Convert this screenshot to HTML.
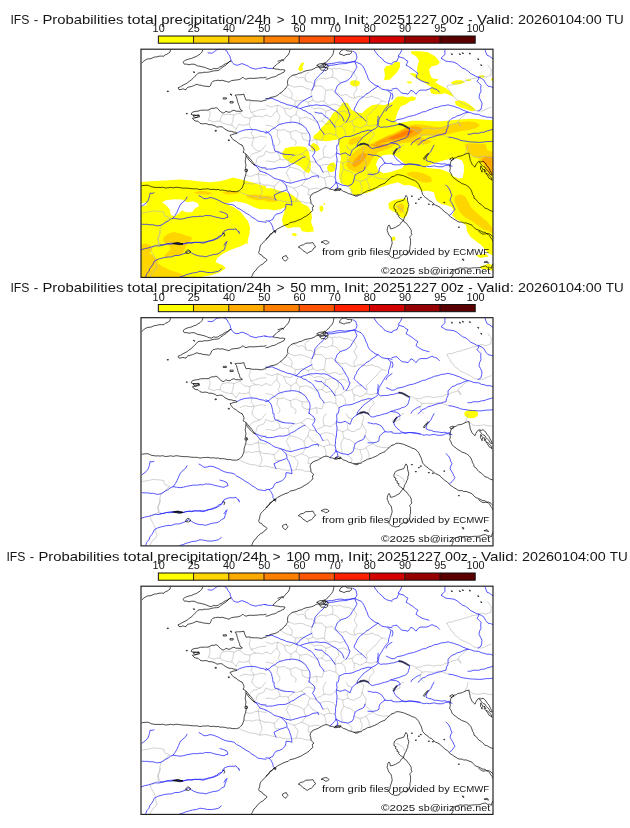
<!DOCTYPE html>
<html><head><meta charset="utf-8"><title>IFS probabilities</title>
<style>
html,body{margin:0;padding:0;background:#fff;}
body{width:630px;height:828px;overflow:hidden;position:relative;font-family:"Liberation Sans",sans-serif;}
svg{will-change:transform;position:absolute;left:0;top:0;display:block}
text{font-family:"Liberation Sans",sans-serif;fill:#151515}
.t{font-size:13.2px}
.l{font-size:10.2px}
.a{font-size:9.9px}
</style></head><body>
<svg width="630" height="828" viewBox="0 0 630 828">
<defs>
<clipPath id="cp"><rect x="0" y="0" width="352" height="228.2"/></clipPath>
<g id="base" fill="none" stroke-linejoin="round" stroke-linecap="round">
<path stroke="#b4b4b4" stroke-width="0.6" d="M68,61 68.9,63.4 69,66 68.4,68.7 67,71 70.1,71.8 73,73 75.9,71.9 79,72 81.8,73.9 85,75 88,75.6 91,76 93.3,77.7 95,80 M79,72 79.7,68.9 81,66 84,65.3 87,65 90,65.3 93,66 95.9,64.6 99,64 101,62 M93,66 92.1,68.9 92,72 90.9,73.9 91,76 M99,64 101,66 103,68 106,68.5 109,69 111.8,67.5 115,67 118.1,67 121,68 122.9,66.8 125,66 M109,69 108.8,72 108,75 109.2,77.7 111,80 110.9,82.1 110,84 112,86.7 113,90 111.5,92.8 111,96 M108,75 105.5,75.5 103,76 100.4,75.9 98,75 96.5,77.5 95,80 M109,51.6 109.1,54.9 108,58 109,60.5 110,63 112.1,65.4 115,67 M110,63 112.5,62.8 114.7,61.9 117,61 119.6,60.4 122.3,60.2 125,60 M99,90 101.9,88.6 105,88 107.9,88.8 111,89 113.7,88.4 116.4,88 119,87 122,87.3 125,88 M152,26 154.7,27.1 157,29 159.4,28.2 162,28 163.9,29.7 165,32 167.9,32.8 171,33 172.7,34.8 174,37 176.3,36.6 178.7,36.9 181,37 182.7,39.3 185,41 188.1,40.9 191,40 192.7,41.8 194,44 197.1,44.6 200,46 202.6,46 205,45 206.9,46.6 209,48 211.5,48.7 214,49 216.3,47.5 219,47 222.1,47.2 225,48.4 228.1,47.9 231,47 M185,18.4 188,19.1 191,20 193.3,19.2 195.7,19.9 198,19 200.3,19.8 202.6,20.7 205,21 207.8,21.2 210.2,22.7 213,23 M214,49 213,46.6 213,44 214.9,41.7 216,39 214.5,36.5 213,34 214.3,31.4 216,29 214.6,26.5 213,24 M231,47 233.8,48.5 237,49 239.2,50.3 241,52 243.1,52.1 245,53 M165,32 164.5,29 164,26 165.8,24.2 168,23 M174,37 174,34.4 175,32 177.3,30.2 180,29 182.6,29 185,30 187.9,28.7 191,28 193.6,28.8 196,30 197.7,31.9 199,34 M191,28 191.8,25.6 192,23 191,20 M148,36 150.6,36.8 153,38 156,37.5 159,37 162.1,37.6 165,39 168.1,39.8 171,41 172,38.7 174,37 M147,39 149.2,41.3 151,44 151.1,46.6 150,49 152.4,50.7 155,52 158,51.6 161,51 164.1,51.6 167,53 169.5,52 172,51 174.3,52.5 177,53 179.9,52 183,52 183.9,49.3 183.9,46.5 184.5,43.7 185,41 M171,41 170.1,43.4 170,46 171.1,48.5 172,51 M139,44 141.5,45.5 144,47 146.9,48.2 150,49 M155,52 153.9,53.9 154,56 155.7,57.9 157,60 155.6,62.4 155,65 156.8,67.2 159,69 162,68.7 165,68 167.5,68.9 170,70 M167,53 167.7,55 168,57 170.8,58 173,60 175.9,59.1 179,59 182.2,60 185,62 188.1,61.3 191,60 194.1,61.2 197,63 199.3,62.3 201.6,61.8 204,62 206.3,63.9 209,65 M183,52 184.7,54.3 187,56 189.4,55.9 191.6,55.1 194,55 196.6,55.7 199,57 201.4,55.8 204,55 M125,56 128,57 131,58 133.9,56.6 137,56 140,57.4 143,59 146,59.2 149,60 151.8,58.4 154,56 M137,56 135.9,58.9 136,62 137.5,64.5 139,67 138.3,69.6 137,72 138.6,74.4 141,76 M125,66 127.6,66.8 130,68 131.9,65.9 133.6,63.6 136,62 M143,59 144.1,62 145,65 147.5,66.5 150,68 152.5,66.5 155,65 M150,68 149.9,71.1 149,74 M159,69 158.5,72 158,75 160.8,76 163,78 M170,70 172.6,71.3 175,73 177.9,72 181,72 183.1,73.4 185,75 187.9,74 191,74 193,75.7 194,78 197,77.3 200,77 202.3,74.7 205,73 208,72.6 211,72 213.5,70 216,68 218.5,68.3 221,68 M185,62 184.3,65 184,68 182.3,69.8 181,72 M197,63 197.1,66.1 198,69 196.1,71.1 194,73 194.2,75.5 194,78 M211,72 211.5,74.7 213,77 216.1,77.6 219,79 222.1,77.7 225,76 228,76.7 231,77 233.4,76 236,76 M225,76 225.9,74.1 226,72 226,69.9 225,68 227.1,66.1 229,64 231.2,62.2 233,60 235.3,58.3 237,56 238.7,53.7 241,52 M125,76 128,76.5 131,77 133,78.3 134.8,80 137,81 140.1,80.9 143,80 145.8,81.9 149,83 152,82.1 155,81 157.8,82.9 161,84 164,84.2 167,84 M137,81 136.3,84 136,87 137.8,89.3 139,92 138.5,94.3 137,96 M149,83 149.9,85.9 150,89 152.6,90.4 155,92 155,94.1 154,96 M161,84 161.1,87.1 162,90 165,91.1 168,92 170.4,91.5 172.7,90.8 175,90 178,90.7 181,91 182,88 183,85 M175,90 176.1,92.9 176,96 M183,85 186.1,84.9 189,84 191.9,85.3 195,86 196.5,88 198,90 M194,78 194.5,80 195,82 194.8,84 195,86 M200,77 202.4,78.6 204,81 204.2,83.6 205,86 M213,77 213.3,80 213,83 M231,82 232.5,83.8 233,86 231.2,88.2 229,90 228.2,92.5 228,95.2 M306,37 308.2,35.8 310.7,35.9 313,35 316.3,33.9 319.8,33.3 323,32 326,31.4 328.9,30.3 331.9,29.2 335,29 337.2,28.5 339,27 342.1,27.1 345,28 347.5,27 350,26 350,23 350.4,20 348.5,18.2 347,16 M306,37 307.3,39.6 309,42 309.9,44.3 311.9,45.8 313,48 314.9,49.8 317.2,51.1 319,53 321.6,54.4 324.4,55.6 327,57 329.2,58 331.2,59.3 333,61 336.1,61.2 339,62 342.2,61.5 345,60 347.5,59 350,58 M269,79 271.7,79.3 274.2,80.8 277,81 279.8,80.9 282.3,79.6 285,79 287.7,78.9 290.4,79.3 293,80 295.6,79.2 298.3,79.1 301,79 303.5,77.5 306.2,76.7 309,76 311.6,74.7 314.4,74.1 317,73 318.1,75.3 320,77 318.8,74.3 317,72 318.9,69.9 321,68 322.9,66.3 325,64.7 327,63 M275,82 277.1,83.2 279.1,84.5 281,86 284.3,85.5 287.7,85.7 291,86 293.7,86.2 296.3,84.9 299,85 302,86 305,87.1 308,88 M281,86 279.6,88.9 279,92 281.2,93.8 283,96 M1,164 4,163.3 7,163 9.6,162.3 12.3,161.7 15,162 17.7,162.1 20.4,162.5 23,163 23,165.1 24,167 26.7,167.6 29,169 26.4,170.3 24.7,172.8 22.4,174.4 20,176 19.3,178.6 18.9,181.3 19,184 18.1,187 17,190 18,192.9 18,196 M98,141.6 99.5,142.8 101,144 104,144.9 107,146 109.9,147 113,147 116.1,147.7 119,149 122,148.5 125,148.4 M104.6,126 107.7,127 111,127 113.8,125.5 117,125 119.7,125.2 122.3,126 125,126 M103,134 105.6,134.7 108.4,134.1 111,135 113.6,134.1 116.3,133.8 119,134 121.8,135.5 125,136 M117,125 118,127.9 118,131.1 119,134 119.2,136.8 120.5,139.3 121,142 120.6,144.4 119.1,146.5 119,149 M114,116 115.1,113.4 115.7,110.6 117,108 120.1,107.2 123,106 123.8,103.9 125,102 M108,109 109.5,107.1 110.9,105.2 113,104 116.1,103.3 119,102 121.4,100.4 123,98 125,96 M111,96 112.4,98.1 114,100 116.3,101.5 119,102 M117,125 118,122.2 120,120 122.4,118.7 125,118 M125,148.4 128,149 131,150 133.7,150.2 136.3,151.1 139,151 141.5,152.2 144.4,152.2 147,153 149.6,152.3 152.4,152.6 155,152 157.7,152 160.4,152.1 163,153 165.3,153.8 167.7,153.6 170,154 M224,118 225.2,120.2 227,122 229.6,123.9 232,126 234.3,127.9 237,129 240,129.5 243,130 245.5,129.6 248,130 M219,96 221.4,97.6 223,100 221.9,103 221,106 222.2,108.1 223.3,110.3 225,112 225,115.1 224,118 M125,102 128,103.1 131,104 134,102.9 137,102 140,103.5 143,105 M125,112 127.7,111.9 130.4,112.4 133,113 136,111.5 139,110 141.6,110.8 144.4,110.2 147,111 149,109.3 151.2,107.9 153,106 M137,102 137.1,104.8 138.7,107.2 139,110 M147,111 148.1,113.2 147.8,115.8 149,118 147.2,119.7 146.4,122 145,124 146.8,125.7 147.2,128.3 149,130 149.1,132 149,134 M153,106 155.4,106.1 157.7,105.5 160,105 162.7,103.3 165,101 168,100.9 171,102 174,102 M160,105 162.2,106 164,107.6 166.6,109.7 169,112 171.9,112.9 175,113 M169,112 167.6,114.9 167,118 169.3,120.3 171,123 174.2,124.4 177,126.4 M149,118 151.7,118.5 154.3,119.4 157,120 159.1,121.2 161.3,122.3 163,124 164.1,121.8 165.9,120.1 167,118 M163,124 163.5,127.2 165,130 M125,136 127.7,135.8 130.3,136.7 133,137 135.5,135.2 137.3,132.6 140,131 M133,137 133.6,140.1 135,143 137,142.5 139,143 M145,136 147.6,137.1 150.3,138.1 153,139 154.9,141.6 157,144 156.6,146.7 155.8,149.4 155,152 M153,139 155.7,138.1 158.3,136.9 161,136 162.5,134.1 163.6,132 165,130 M161,136 163.4,137.3 166,138.2 168,140 170.4,139.8 172.7,139.3 175,139 177.6,139.4 180,140.4 M168,140 167.2,142.9 167,146 169.1,145.8 171,145 M177,126.4 180,127.7 183,129 185.9,127.6 189,127 191.5,127.5 194,128 M183,129 184.4,131.9 185,135 185,138.4 M179,117 181.9,115.6 185,115 188,115.4 191,116 193.3,117.7 195,120 M182,123 184.5,122.4 187,122 188,124.5 189,127 M175,113 177.4,110.9 180.4,109.8 183,108 186.1,108 189,109 191.3,107.6 193.5,105.9 195.4,104 M183,108 182.5,105 182,102 183,98.8 185,96 M196,112 199,113 202,114 204.4,112.9 207,112 209.8,113.5 213,114 215.8,112.1 219,111 220.4,108.7 221,106 M202,114 201.9,117.1 203,120 201.3,122.9 200,126 200,129.4 201,132.6 201,136 M203,120 205.8,121.5 209,122 211.5,124 214,126 M207,106 206.5,109 207,112 M207,137 208.6,139.4 211,141 210.9,143.1 210,145 M213,130 215.9,131.3 219,132 222.2,131.5 225,130 227.1,128.2 229.6,127.2 232,126 M219,132 219.7,135.1 221,138 221.1,140.6 219.9,143 220,145.6 M225,130 226.7,132.9 228,136 228.1,138.6 229,141 M205,96 206.4,97.8 207,100 209,100.5 211,101 M251,102 253.1,102.7 255,104 256.8,102.6 259,102 258.7,100 259,98 260.8,96.5 263,96 M328,104 329.6,105.4 331,107 334,107.8 337,108 340,107.7 343,107 345.9,107.9 349,108.2 352,108.4 M324,105 324.7,102.9 326,101 326.6,98.5 327,96 M19,182 18.8,184.5 17.6,186.8 16.7,189.1 17.2,192 17.6,194.9 14.6,196 11.9,197.9 9,199.1 10.2,202.1 11.8,204.9 13.3,207.7 14.6,210.9 14.7,214.5 16.1,217.7 14.6,220.4 12,222.3 10.4,224.9 9,227.7 M255,157.3 258.2,158 259.5,159.6 261.4,160.5 262.8,162.2 263.3,164.3"/>
<path stroke="#2020ff" stroke-width="0.75" d="M67,3.6 69,3.8 71,4 73.6,2.3 76,0.4 78.5,0.2 81,-0.4 83.7,0.4 86,2 87.2,4.7 89,7 89.4,9.4 90.4,11.6 91.4,13.5 93,15 94.9,15.8 97,16 99,15.1 101,14.4 103,15.1 105,16 107.2,16.9 109,18.4 112,19.3 115,20 117.4,19.1 120,19 122.4,18.3 125,18.4 M96,84 98.4,82.5 101,81.6 103.9,80.7 107,80.4 110,80.2 113,80.4 116.1,80.8 119,82 122.1,82.3 125,83.6 M185,15 187.6,14.5 190.3,14.4 193,14 195.6,13.3 198.3,12.9 201,13 203.7,13.5 206.3,13.1 209,13 211.5,12.5 214,12 215.4,10.2 216,8 215.4,6 215,4 212,2 M186,16 189,16.2 192,15.9 195,15.4 198.3,14.8 201.6,14.5 205,14.4 208,13.5 210.9,12.8 214,12.4 M214,12.4 217,13.8 220,15 221.7,16.9 223,19 224.1,21.5 225,24 226.3,26.4 227,29 228.2,31.2 230,33 232.1,34.4 234,36 237,37 239,38.5 241,40 244,40.6 247,41 248.2,42.8 250,44 249.4,47 248.6,50 247.6,52.9 247.4,56 245.7,58 244,60 242.5,62.5 241,65 239.5,67.5 238,70 237.5,73.2 236,76 M237,37 234,39 231,41 228.2,43.3 225,45 222.8,47.4 220,49 217.8,51.3 216,54 215.3,56.1 214,58 213,61 214.5,62.5 216,64 218.4,66.2 221,68 223,70 225,72 M247,41 249,41.1 251,41.6 M214,13 215,15.5 216,18 214.5,20.5 213,23 211.3,25.4 210,28 207.7,30.3 205,32 202,32.9 199,34 197.7,35.7 196,37 195.2,39.6 194,42 195.3,44.2 197,46 199,48 201,50 202.4,52.5 204,55 205.3,57.6 207,60 207.6,62.7 209,65 208.1,67.5 207,70 205,73 M124,18.4 126,18.9 128,19.2 130,19.2 132,19.2 M185,18 183.5,20.5 182,23 179.6,24.9 177.4,27 175.7,29 174,31 173.5,33.5 173,36 172,38.5 171,41 M125,49.6 128,49.7 131,49 133.9,50.5 137,51.6 139.9,53.1 143,54 145.9,55.4 149,56 152.1,56.8 155,58 157.5,58.9 160,59.6 162.3,61.2 165,62 167.3,63.8 170,65 172.3,67.3 174,70 176,72.3 177.4,75 178.3,77.5 179,80 181.3,82.2 183,85 M160,59 163.4,57.8 167,57 169.6,56.1 172.4,56.2 175,55.6 177.7,56 180.3,56.3 183,56 186.1,56.9 189,58.4 191.9,60.4 195,62 197.4,64.1 200,66 201.8,68.8 203,72 M174,63 177.4,63.9 181,64 183.7,66.9 187,69 189.7,71.8 192,75 194,78 M155,58 157.3,56.3 159,54 161.9,51.9 165,50 168,48.5 171,47 M125,84 128.3,82.4 131,80 134.2,78.3 137,76 139.6,74.9 142.3,74.3 145,73.6 147.7,73.4 150.3,73 153,73 156.6,73.7 160,75 162.6,76.9 165,79 166.3,81.6 168,84 169,86.9 169,90 168.4,93 168,96 M125,82 127,83.5 129,85 130.4,87.3 131,90 131.7,93 132,96 M233,0.4 234.9,3.3 237,6 239,8 241.3,9.7 243,12 245.5,13.5 248.2,14.3 251,15 M251,56 248,58 246.1,59.7 245,62 M261,0.4 259.3,3.9 257,7 259.9,8.2 263,9 264.7,10.9 267,12 266,14 265,16 267.6,17.4 270,19 272.3,20.6 274.6,22.5 277,24 275.8,25.9 275,28 277.9,30.1 281,32 284.5,33.1 288,34 M251,14 253.3,12.6 256,12 256.7,9.8 258,8 M251,40 253.5,39.3 256,39 258.3,41.7 261,44 264,44.3 267,45 268.6,43 270,41 272.8,42.6 275,45 276.7,42.7 279,41 282,40.8 285,41 288.1,39.9 291,38.4 293.4,39.6 296,40.4 298.4,43 M251,50 252,47 251,44 M304,0.4 303.8,2.7 304,5 302.1,7.1 300,9 302.5,10.5 305,12 307.7,12.3 310.3,12.6 313,13 316.2,14.7 319,17 321.5,19 324.5,20.1 327,22 329.7,24.4 333,26 335.3,27.4 338,28 337.4,30.2 336,32 338,34 340,36 339.7,39 340,42 338.6,44.9 338,48 339.5,51 341,54 340.7,57 340,60 337,62 M338,28 340.6,29.3 343,31 344.6,34.2 347,37 349.6,37.4 352,38.4 M344,0.4 344.9,3.2 346,6 348.7,7.2 351,9 352,9.6 M245.4,70 248.2,71.3 251,72.6 253.8,72.2 256.2,70.5 259,70 262.4,69.3 265.7,68 269,67 272.4,66.4 275.7,65.2 279,64 281.6,62.7 284.5,62.4 287,61 290.3,60 293.5,58.5 297,58 300.2,56.7 303.7,56.4 307,55.6 309.7,56.4 312.4,57 315,58 318.6,59.2 322,61 324.6,61.9 327,63 329.7,63.5 332.3,64.7 335,65 337.8,65.2 340.3,66.6 343,67 345.9,68 349.1,68 352,69 M327,63 324.2,63.6 321.6,64.8 319,66 316.2,66.6 313.7,68.2 311,69 309.1,71.1 307,73 307.1,75.5 307,78 305.5,80.8 305,84 302.3,84.6 299.7,85.5 297,86 293.7,87.1 290.4,88.2 287,89 284.2,90.9 281,92 279.3,94.3 277,96 M327,85 329.7,85 332.3,84.1 335,84 337.7,84.1 340.3,83.1 343,83 345.9,81.8 349,81 352,80 M308,88 311.1,88.4 314,89.2 317,90 319.6,91.1 322.2,91.7 325,92 328.3,92.6 331.7,92.8 335,93 338.4,93.2 341.8,93 345.2,92.4 348.6,92.4 352,92 M114,116 116.6,116.7 119,118 122,118.6 125,119 M114,116 116.9,118.7 119,122 122.1,122.8 125,124 M1,157 3,155.5 5,154 6.9,151.7 8,149 8.6,146.5 9,144 11,144.2 13,143.6 M1,175 3.7,175.2 6.4,175.1 9,175.6 12.4,175.6 15.6,176.6 19,176.4 21.8,175.1 24.2,173.3 27,172 29.3,170.1 32,169 35.5,169.5 39,170 42.4,169.5 45.7,168.6 49,168 52.3,167.4 55.7,167.5 59,167 61.7,167.2 64.3,166.3 67,166.4 69.8,166.5 72.4,167.3 75,168 77.7,168.5 80.3,169.2 83,169.6 84.9,168.5 87,168 86,165 82.6,163.4 79,162.4 M32,169 34.2,166.1 36,163 37.5,159.5 39,156 40.8,153.8 43,152 44.9,150.3 46,148 M58,146.4 60.6,147.8 63,149.6 66.1,149.3 69,148.4 72.1,148.9 75,150 78.1,151.3 81,153 83.9,154.2 87,155 90,155.3 93,156 95.7,158.4 99,160 102,162 105,164 108.2,165.7 111,168 114.2,169.8 117,172 119.7,172.3 122.3,172.8 125,173 M19,195.6 22.4,195.8 25.6,194.8 29,195 32.3,194.7 35.6,194.3 39,194.4 42,194.8 45,193.8 48,193.7 51,194 53.6,193.2 56.3,193.2 59,193 61.7,193.1 64.4,192.7 67,192 69.7,191.6 72.5,191.1 75,190 78.2,188.4 81,186 81.8,183.9 83,182 85.9,180.7 89,180 92,180.2 95,179.6 96.3,181.5 98,183 M85,193 83,196 M196,96 195.6,98.7 196,101.4 195.4,104 195.3,106.7 196,109.3 196,112 195.6,114.7 195.5,117.3 195,120 194.4,122.6 194.6,125.4 194,128 194.7,130.5 195,133 193.7,135.2 192,137 189,139.6 M195,133 196.3,135.4 197,138 195.2,139.2 194,141 M195,133 198,134.6 201,136 204,136.3 207,137 209,135.9 211,135 212.5,132.7 213,130 213.5,128 214,126 216.4,124.3 219,123 221.1,122.3 223,121 224,118 M227,105 229.6,105.5 232.3,106.2 235,106 238.2,107.1 241,109 242.5,111.5 244,114 247.5,114.3 251,114 M244,114 241.3,115.7 239,118 238.1,120.4 238,123 235.7,124.4 233,125 230,125.2 227,125 M168,95.4 170.6,97.6 173,99.6 174,102 173,104.7 171.4,107 173.5,109.8 175,113 176.7,115.3 179,117 180.4,120 182,123 M133,96 133.1,99.1 134,102 137,102.9 139.9,104.3 143,105 146.3,105.3 149.7,105.4 153,106 M125,120 128.4,119.9 131.7,119.8 135,119 138.3,118.3 141.7,118.4 145,118 147.7,116.8 150.2,115.1 153,114 155.9,111.9 159,110 161.3,108.5 164,107.6 M125,124 127.8,125.4 130.5,127.1 133,129 136.5,130.1 140,131 142.4,133.6 145,136 145.8,138.4 146,141 147.9,143.8 149,147 150,150 150.6,153 151,156 148,155.3 145,155 144.8,157.6 144,160 142.6,161.6 141,163 138.1,164.3 135,165 133.2,167.3 132,170 130,171 128,172 125,171.6 M128,172 129.8,173.7 131,176 131.9,177.9 132,180 134,182 M145,141 142,142.1 139,143 136,144.5 133,146 133.9,148.6 135,151 M140.6,131.4 143,131.9 145,133.2 147.1,133.3 149,134 151.7,133.5 154.3,132.6 157,132 159.6,131.1 162.3,130.5 165,130 167.8,129.4 170.3,127.8 173,127 175,126.8 177,126.4 177.4,128.4 M251,115 253.6,115.6 256.3,115.6 259,115.6 261.6,115.1 264.4,115.6 267,115 269.7,114.7 272.3,115.4 275,115.6 277.7,116.2 280.4,116.7 283,117.6 285.6,117 288.4,117.5 291,117 293.7,116.7 296.3,117.5 299,117.6 301.8,117.5 304.3,116.2 307,116 309.1,116.2 311,117 M293,96 291.4,99 290,102 288,104.5 286,107 285.4,109 285,111 287.6,112.3 290.4,112.7 293,114 295.7,114.1 298.4,114.5 301,115 303.7,114.5 306.3,115.4 309,115 M305,136 307.4,138.2 309,141 309.7,143.6 311,146 309.8,148.4 309,151 310.5,153.5 312,156 312.8,158.1 314,160 312.5,162 311,164 308.6,166 M0.4,200.6 3.7,199.4 7.1,198.8 10.4,197.7 14.2,196.6 18.1,196.8 21.9,195.7 25.6,194.8 29.4,194.1 33.3,194 36.2,193.9 39,195 41.9,194.9 44.7,194.2 47.5,193.5 50.4,193.4 54.3,193.1 58.1,193.3 61.9,194 64.8,193.2 67.6,192.1 70.5,191.2 73.3,190 75.8,189 77.8,187.1 80.4,186.3 81.9,184.9 83.3,183.4 M4.7,227.7 5.7,224.6 7.9,222.1 9,219.1 10.8,216.9 12.2,214.6 13.3,212 16.7,210.2 20.4,209.1 23.7,208.3 27,207.8 30.4,207.7 34.1,206.3 38.1,206.2 41.9,204.9 44.9,203.7 47.6,202 50.4,203.6 53.1,205.2 56.1,206.3 58.9,206.9 61.9,207 64.7,207.7 68.4,206.4 72.2,205.4 76.1,204.9 78.6,203.7 80.7,201.8 83.3,200.6 84.1,197.7 85.1,194.8 86.1,192 M39,227.7 41.9,227 44.7,225.7 47.6,224.9 51.4,223.8 55.3,223.4 59,222 62.8,222.5 66.6,223.3 70.4,223.4 74,222.8 77.6,222 80.4,219.7 M97.6,182 98.4,184.3 M237.1,67 237.1,69.6 236.5,72.1 237.1,74.3 237.1,76.5 239.6,78.2 242.1,77.8 244.7,77.8 247.3,77.6 249.8,76.9 252.4,76.7 254.9,75.9 258.7,74.9 M268.6,79.3 268.6,81 267.6,84.1 267,86.2 265.7,88 263.6,89.3 261.2,89.9 258.7,91.1 256.1,91.8 252.3,93 249.8,93.7 248,94.8 246,95.6 243.4,96.2 240.9,96.8 238.4,97.8 235.8,98.1 233.6,98.9 231.4,99.4 228.8,98.1 227.6,96.5 M237.1,77.2 234.1,79.5 230.7,81.2 226.9,81 223.1,82.2 220.4,82.7 218,84.1 215.4,84.8 213,86 209.9,87 206.6,87.3 204,87.3 201.5,88.3 198,90 197.9,93.1 197,96 M230.5,81.5 227.5,83.8 224.4,86 221.9,87.9 220,90.5 218.2,92.2 216.8,94.3 215.8,96.8 M216.8,96.8 213.6,98.7 211.1,101.3 209.8,104.5 209.2,106.6 206.6,105.1 204.1,103.6 201.5,104.5 199,105.1 196,104 M249.8,93.7 252.3,94.2 254.9,94.3 258,96 259.3,98.1 256.1,99.4 253.6,101.9 M252.6,104.8 253.6,107.6 254.9,109.2 256.1,110.8 258.2,112.2 260,114 262.5,114.8 265,115.3 267.5,114.8 270.1,115 273.1,115 276,115.5 279,115.9 M270.1,95.6 271,93.7 272.7,92.4 274.5,91.1 276.5,89.9 279,88.8"/>
<path stroke="#000" stroke-width="0.7" d="M1,13.6 2.9,11.8 5,10.4 6.9,9.6 9,9.6 11,9 13.2,7.9 15.7,7.7 18,7 20.5,6.9 23,7 24.2,5.6 26,5 27.5,4 29,3 29.4,0.4 M62,0.4 60.9,3 59,5 57,6.1 55.2,7.4 53,8 50.8,9.2 48.4,9.7 46,10.4 43.8,11.4 42,13 43.4,15 45.8,14.9 48,15.6 50.5,15 53,15 55,15.8 56.8,16.8 59,17 61,17.6 63,18 65.5,18.9 68,20 70.4,20.4 72.6,19.2 75,19.6 77.2,19.1 78.9,17.7 81,17 82.8,15.5 84.8,14.4 87,13.6 88.4,12.4 90,11.6 87.5,13.1 85.5,15.5 83,17 81.3,18.3 79.6,19.5 78,21 75.7,21.5 73.3,21.6 71,22 68.4,22.8 65.7,23.1 63,23 61.1,23.7 59,23.5 57,24 55.6,25.6 54,27 52.1,29.1 50,31 47.9,32.4 46,34 44,35 42,36 39.6,37.5 37,38.6 38,40.4 40.1,40.3 42,39.6 43.4,40.2 45,40.4 45.8,39 47,38 49.2,37.6 51.4,37 53.7,36 56,35 57.9,35.9 60,36 61.9,36.7 64,37 66,37.1 68,37.6 69.4,36.6 70,35 70.7,33.3 72,32 74.5,31.4 77,31 79,31.5 81,31 83,31.6 85.5,32.3 88,33 90.3,31.5 93,31 95,30.8 97,30.6 99,30 100.5,29.1 102,28 103.3,29.3 105,30 107,29.3 109,29 111,29.2 113,29.1 115,29 117.5,28.8 120,28.5 122.5,28.6 125,28 M26.6,41.8 27.4,41.8 27.4,42.4 26.6,42.4Z M45.6,64.2 46.4,64.2 46.4,64.6 45.6,64.6Z M52.6,22.6 53.4,22.6 53.4,23.4Z M74.4,81.2 75.4,81.2 75.4,82 74.4,82Z M87.6,90.6 88.4,90.6 88.4,91.4 87.6,91.4Z M82.6,48.6 85.4,48.6 85.4,49.8 82.6,49.8Z M89.4,52.4 92.2,52.4 92.2,53.8 89.4,53.8Z M89.4,45 90.6,45 90.6,45.8Z M52.6,66 55.3,66.3 58,65.6 58.6,67.6 56.8,68 55,68.4 53,67.6Z M125,51 123,51.2 121.1,52.1 119,52 116.3,51.6 113.7,51.6 111,51.6 109.1,50.9 107,50.8 105,51 104,48.4 103.3,46.8 103,45 101,45.4 99,45.6 96.5,45.6 94,46 95.5,47.8 96,50 96.7,52.5 97.4,55 98.5,57.4 99,60 101.4,61.6 99.2,62.2 97,62 94.9,62 93,61 90.9,61.7 89,63 86.9,62.9 85,62 83.7,63.2 82,64 79.9,62.6 78,61 76.8,59.4 75,58.4 73.1,59.2 71,59 69,60 67,61 64.5,60.9 62,61 59.4,61.1 57,62 54.1,62.2 51.4,63 50,65 51.9,65.9 54,66 56,66 58,66.4 56.6,67.5 55,68.4 53.2,68.9 51.4,69 53,71 54.9,71.9 57,72 59,74 61.5,74.7 64,74.4 66.1,74.6 68,75.6 70,75.4 72,76 74.1,76.7 76,78 78.5,77.5 81,77.6 82.5,78.8 84,80 86,81.1 88,82 90.6,82.2 93,83 94.7,83 96,84 94,84.6 92,85 90.5,85.6 89,86 89.9,87.5 91,89 92.7,90.9 95,92 96.9,93.7 99,95 101,96 M149,0.4 148.3,3.3 147,6 144.7,8 143,10.4 140.7,11.3 139,13 136.8,14.2 135,16 133.3,17.3 132,19 134.4,19.8 137,20 139.3,20.6 141.7,20.4 144,21 143,23 141,23.8 139.1,24.9 137,25.6 135.2,26.9 133.2,27.7 131,28 129.1,28.9 127.1,29.6 125,30 M137,12 139.1,11.4 141,10.4 142.6,11.6 M125,49.6 127.1,49.5 129,48.4 131,47.9 133,47.6 135.2,46.8 137.3,45.7 139,44 141.3,42.7 142.9,40.6 145,39 145.7,37.3 147,36 146.5,34 146.6,32 147,30.4 148,29 149.8,27.2 152,26 154,25.5 156.1,25.1 158,24 160.5,23.6 162.7,22.4 165,21.6 167.7,21.1 170.4,20.6 173,19.6 175,18.2 177.4,17.6 179.8,16.5 182,15 184.3,13.9 186,12 187.7,10.7 189,9 190.7,7.2 192,5 192.5,2.7 193,0.4 M176,16 177.9,14.9 180,14.4 182.1,14.3 184,13.6 185,16 183.6,17 182,17.6 179.9,17.7 178,18.4 177.4,16.9Z M179,19 181.5,18.4 184,18 185.6,18.7 187,19.6 185,21.6 183.1,20.8 181,21Z M182,15.6 184,15.5 186,15 187.4,17.6 184.6,18.4 183,17.2Z M199,3 200.2,1.4 202,0.4 204.3,0.4 206.4,1.6 208.7,1.9 211,2 210.3,3.7 209,5 206.9,5.1 204.9,5.4 203,6.4 201.1,5.5 199,5Z M310.6,4.6 311.4,4.8 311.2,5.4Z M318.6,4.6 319.4,4.8 319.2,5.4Z M321.6,3.6 322.4,3.8 322.2,4.4Z M328.6,4 329.4,4.2 329.2,4.8Z M337,9.6 337.8,9.8 337.6,10.4Z M340,15.6 340.8,15.8 340.6,16.4Z M101,96 102.2,97.9 103,100 102.8,101.6 102,103 103.6,103.9 105,105 104.9,107.5 104.6,110 104.2,112 104.5,114 105,116 104.5,118.5 105.3,121 105.2,123.5 104.6,126 103.8,128.6 103.1,131.2 103,134 102,136.5 101,139 99.4,140.2 98,141.6 95.6,142.5 93,142.4 91,142.4 89,141.7 87,142 84.4,141.3 81.7,140.9 79,141 77.1,140.2 75,140.6 73,140 71,140.3 69,140.1 67,139.6 64.3,139.8 61.6,139.9 59,140.4 56.4,139.7 53.7,139.6 51,139.6 48.3,139.2 45.7,138.9 43,139 40.3,138.7 37.7,138.3 35,138 32.4,138.7 29.6,138.1 27,138.6 24.3,138.8 21.7,138 19,138.4 17,138.1 15,138.3 13,138 10.9,137.7 8.9,136.9 7,136 5,136.1 3,136.2 1,136.6 M105,105 106.8,106.7 108,109 109.8,110.2 111,112 112.5,114 114,116 112,115 110.1,112.9 108,111 106.6,109.1 105.4,107 M104.2,120.4 106.2,120 106.6,122 104.6,122.4Z M34,194.6 35.9,193.7 38,193.8 40,194.4 42,194.6 40.5,195.2 39,195.6 36.5,195.2Z M82,184 84,185 83,187 M125,190 126.3,188.3 128.1,187 129,185 130.9,184.3 132.3,182.6 134,181.6 136.4,179.8 139,178.4 141,177.4 143,176.5 145,175.6 147.2,175.2 148.9,173.5 151,173 153.1,172.6 155.1,171.9 157,171 159.2,170.3 161.1,169.3 163,168 165.6,166.6 168,165 169.9,162.9 172,161 171.5,159.5 171.4,158 173,157 171.4,155.6 170,154 169.8,151.4 169,149 169.6,146.8 171,145 172.9,143.7 175,143 177.6,141.9 180,140.4 182.4,139.1 185,138.4 187.2,138.8 189,140 191.7,140.3 194,141.6 196,141.3 198,140.6 200,140.4 202.3,142.2 205,143 207.3,144.4 210,145 212.4,146 215,146 217.5,145.5 220,145.6 221.8,143.9 224,143 226.3,141.6 229,141 231.5,140 234,139 236.6,137.7 239,136 241.5,134.9 244,134 245.8,131.8 248,130 249.4,128.7 251,127.6 M133,182 135,181.6 134.6,183.2Z M194,140.4 195.6,139.8 197,139 198.5,139.5 200,139.6 199,141.2 196.5,140.5Z M213,146 214.4,146.9 216,147 218,146 M251,127.6 253.2,127 255,125.6 257.5,125.5 260,126 262.6,126.6 265,127.6 267,128.5 269.1,129.3 271,130.4 273.7,131.2 276,133 277.8,135.3 279,138 280.3,140.4 281,143 281.6,145.2 283,147 284.9,148.7 287,150 288.4,151.7 290.6,152.4 292,154 294.3,155.8 297,157 298.9,158 300.3,159.7 302,161 303.9,162.8 306.1,164.2 308,166 309.4,167.7 311.3,168.7 313,170 315,171.1 316.8,172.4 319,173 321,172.8 322.9,173.9 325,173.6 326.9,174.5 329,175.1 331,176 332.8,178.2 335,180 337.6,180.8 340,182 341.9,183 344,183 345.6,184.4 347.4,185.5 349,187 349.8,188.7 351,190 352,192 M309,117 309.4,114.5 310,112 311.2,110.2 313,109 315.1,108.6 316.8,107.2 319,107 321.6,106.3 324,105 325.9,104.2 328,104 328.3,106.5 329,109 329.2,111.2 330.2,113 331,115 332.4,116.6 334,118 334.8,115.9 336,114 337.2,112.5 339,112 M309,117 309.3,119.5 308.6,122 310.1,124.3 311,127 312.9,128.8 315,130.3 317,132 319,133 320.8,134.4 323,135 325.7,136.2 328,138 329.8,140.3 331,143 331.5,145.1 332.8,146.8 333,149 335.1,150.3 336.4,152.2 338,154 340.3,155.3 342.1,157.2 344,159 346.5,159.7 348.6,161.1 351,162 352,162.4 M339,113 340.5,112.6 342,112 343.7,113.3 345,115 346.4,117.1 348,119 349,121 350,123 350.9,124.4 351,126 349,125 348.2,123 346.6,121.6 345.1,120 344,118 342.3,117.3 341,116 339.6,114.7Z M340,117 340.9,118.6 342,120 341.1,121.4 341,123 340.5,121.4 339.4,120 339.6,118.5Z M345,124 346.6,124.8 348,126 350,128.2 351,131 349.6,129.9 348,129 346.6,126.5Z M343,120 344.1,121.1 345,122.4 343.4,123 343.4,121.5Z M309,109.6 310.5,108.9 312,108.4 313,110 310.6,111.2Z M282.6,109.2 284,107 285.7,105.7 287,104 287.6,104.6 286.1,105.9 285,107.6 283.4,110Z M277.6,149.8 278.4,149.7 278.3,150.3 277.7,150.2Z M270.6,146.8 271.4,146.7 271.3,147.3 270.7,147.2Z M287.6,154.8 288.4,154.7 288.3,155.3 287.7,155.2Z M291.6,155.4 292.4,155.3 292.3,155.9 291.7,155.8Z M303,153.2 303.8,153.1 303.7,153.7 303.1,153.6Z M317.6,177.8 318.4,177.7 318.3,178.3 317.7,178.2Z M274.6,153.8 275.4,153.7 275.3,154.3 274.7,154.2Z M279.6,148.2 280.4,148.1 280.3,148.7 279.7,148.6Z M133.3,182 131.9,183.5 130.2,184.6 129,186.3 127.1,188.2 125.4,190.3 123.3,192 121.7,193.8 120,195.5 119,197.7 118.6,200.6 117.6,203.4 118.7,205.1 120.8,205.9 121.9,207.7 124.1,208.9 126.1,210.6 124.9,212.2 123.1,213.3 121.9,214.9 119.7,215.9 117.9,217.5 116.1,219.1 114.9,221.1 113,222.7 111.9,224.9 111.3,226.4 110.4,227.7 M157.6,197.7 159.8,196.2 162.5,195.6 164.7,194 167.1,193.9 169.5,193.8 171.9,193.4 173.1,195.6 174.7,197.7 172.9,198.8 171.9,200.6 170.4,202 168.1,202.8 166.1,204.3 164.1,202.7 161.9,201.4 160,199.3Z M141.9,207.7 143.6,206.9 145.3,206.3 145.9,207.8 147,209.1 145.8,210.5 144.7,212 143.2,211.2 141.9,210Z M31.9,194.3 34.7,193.7 37.6,193.4 39.7,194.3 41.9,194.6 39.7,194.5 37.6,195.1 34.8,194.3Z M44.7,203.4 45.4,201.7 47,200.6 48.6,201.4 49.9,202.6 47.6,204.3 46.1,204.1Z M180.4,192.9 182.4,191.8 184.7,191.4 186.7,191.9 188.1,193.4 186.5,194.5 184.7,195.1 182.7,193.7Z M310.4,227.7 311.9,225.5 311.8,222.8 313.3,220.6 315.2,219.9 317.1,219.3 319,218.6 321.8,219.1 324.8,218.6 327.6,219.1 330.4,218.9 333.3,218.6 336.1,218.6 339,218.4 341.8,217.2 344.7,216.9 346.4,218.1 348.6,218.1 350.4,219.1 350.9,216.9 351.9,214.9 M337.6,182 339.6,183.6 341.9,184.9 344.7,184.6 347.6,184.3 350,185.7 351.9,187.7 M343.3,212.9 346.1,212 347.6,214 345.5,213.3Z M321.3,210 322.7,210 322.7,211.1Z M265.2,146.5 266.5,148.4 266.5,151 267.1,153.5 267.8,155.4 267.5,157.3 266.8,159.1 266.8,161.1 265.8,162.9 265.2,164.9 264,166.7 263.3,168.7 262.3,171.5 261,170.3 259.5,169.4 257.6,167.5 258,166 255.9,165.2 256.4,163.4 254.4,162.4 255,160.5 253.1,159.6 252.9,157.3 253.8,154.8 255,153.7 256.3,152.9 257.9,152.3 259.5,152 261.1,151.4 262.7,151 263.9,148.4Z M262.3,171.5 260.6,172.7 259.5,174.5 258.2,176.2 256.3,177 254.5,178.2 252.5,178.9 250.9,179.5 249.3,179.5 249.1,177.5 248,175.7 246.8,177.6 246.4,179.5 246.1,181.4 246.9,183 247.4,184.6 248,186.1 249.3,187.2 250.2,188.6 250.6,190.3 250.9,192.2 251.2,194.1 250.6,196 250,198 249.3,199.8 249.1,201.8 248.3,203.6 248,205.6 249.2,207 250.6,208.1 252.6,208.6 254.4,209.4 256.3,208.9 258.2,208.7 258.8,207.2 260.1,206.2 262.7,204.9 264.2,205.6 265.8,205.6 266.9,204.4 267.7,203 268.6,201.2 269,199.2 268.9,197.2 269.6,195.4 269.5,193.5 269.6,191.6 269.4,189.6 268.6,187.8 269.8,186.6 270.9,185.3 270.2,183.4 270.3,181.4 269,178.9 267.7,177.3 266.5,175.7 265.5,174.1 263.9,173.2Z"/>
<path stroke="#14143c" stroke-width="0.5" fill="#20204a" d="M258,74.4 261.2,74.9 265,76.7 268.6,79.1 267.6,79.6 264.4,77.9 261,76.1 258,75.5Z M216.5,96.7 219.3,94.4 223.1,93.7 227.2,95.2 228.2,97.1 226.3,96.1 223.1,95.1 219.6,95.7Z M253.9,101.3 255.5,99.4 256.4,99.8 254.6,102.3 253,105.1 252.1,104.6Z"/>
</g>
<g id="cbar">
<rect x="158.35" y="36" width="35.21" height="7.2" fill="#ffff00"/>
<rect x="193.56" y="36" width="35.21" height="7.2" fill="#ffd500"/>
<rect x="228.76" y="36" width="35.21" height="7.2" fill="#ffaa00"/>
<rect x="263.97" y="36" width="35.21" height="7.2" fill="#ff8000"/>
<rect x="299.17" y="36" width="35.21" height="7.2" fill="#ff5500"/>
<rect x="334.38" y="36" width="35.21" height="7.2" fill="#ff2000"/>
<rect x="369.58" y="36" width="35.21" height="7.2" fill="#d40000"/>
<rect x="404.79" y="36" width="35.21" height="7.2" fill="#960000"/>
<rect x="439.99" y="36" width="35.21" height="7.2" fill="#5a0000"/>
<path d="M193.56,36V43.2 M228.76,36V43.2 M263.97,36V43.2 M299.17,36V43.2 M334.38,36V43.2 M369.58,36V43.2 M404.79,36V43.2 M439.99,36V43.2" stroke="#111" stroke-width="0.9" fill="none"/>
<rect x="158.35" y="36" width="316.85" height="7.2" fill="none" stroke="#111" stroke-width="1"/>
<text class="l" x="152.61" y="32" textLength="12.09" lengthAdjust="spacingAndGlyphs">10</text>
<text class="l" x="187.81" y="32" textLength="12.09" lengthAdjust="spacingAndGlyphs">25</text>
<text class="l" x="223.02" y="32" textLength="12.09" lengthAdjust="spacingAndGlyphs">40</text>
<text class="l" x="258.22" y="32" textLength="12.09" lengthAdjust="spacingAndGlyphs">50</text>
<text class="l" x="293.43" y="32" textLength="12.09" lengthAdjust="spacingAndGlyphs">60</text>
<text class="l" x="328.63" y="32" textLength="12.09" lengthAdjust="spacingAndGlyphs">70</text>
<text class="l" x="363.84" y="32" textLength="12.09" lengthAdjust="spacingAndGlyphs">80</text>
<text class="l" x="399.04" y="32" textLength="12.09" lengthAdjust="spacingAndGlyphs">90</text>
<text class="l" x="434.25" y="32" textLength="12.09" lengthAdjust="spacingAndGlyphs">95</text>
<text class="l" x="466.43" y="32" textLength="18.13" lengthAdjust="spacingAndGlyphs">100</text>
</g>
<g id="annot">
<text class="a" x="321.90" y="254.9" textLength="22.67" lengthAdjust="spacingAndGlyphs">from</text>
<text class="a" x="347.64" y="254.9" textLength="18.90" lengthAdjust="spacingAndGlyphs">grib</text>
<text class="a" x="369.60" y="254.9" textLength="19.72" lengthAdjust="spacingAndGlyphs">files</text>
<text class="a" x="392.39" y="254.9" textLength="42.58" lengthAdjust="spacingAndGlyphs">provided</text>
<text class="a" x="438.04" y="254.9" textLength="11.84" lengthAdjust="spacingAndGlyphs">by</text>
<text class="a" x="452.94" y="254.9" textLength="36.25" lengthAdjust="spacingAndGlyphs">ECMWF</text>
<text class="a" x="381.00" y="273.5" textLength="34.21" lengthAdjust="spacingAndGlyphs">©2025</text>
<text class="a" x="418.28" y="273.5" textLength="72.06" lengthAdjust="spacingAndGlyphs">sb@irizone.net</text>
</g>
</defs>
<rect width="630" height="828" fill="#fff"/>
<g transform="translate(0,0)">
<g transform="translate(141,49.2)"><g clip-path="url(#cp)">
<path fill="#ffff00" d="M200,56 202,53 207,54 210,60 215,63 221,64 225,60 231,56 237,55 243,56 251,53 256,47.6 261,47 267,48.4 271,47 275,48.4 274,51 269,52 265,55 260,57 257,62 255,68 254,72.4 257,74 263,73 271,71.6 281,71.6 291,72 301,72 311,71 321,70 331,69.6 341,70.4 353,71 353,71 353,206 351.9,206 347.6,204.6 340.4,196 334.7,191.7 327.6,186 341,194 335,191 329,187 326,182 325,176 321,173 315,170 311,166 313,163 311,158 306,156 301,155 296,152 294,148 293,143 287,141.6 281,142 275,138 269,136 263,136 257,133 249,135 243,137 237,139 231,142 225,144 219,145 213,146 210,143 209,138 204,136 199,133 198,127 198.6,121 199,115 200,109 199,104 198.6,99 198,94 197,90 192,91 185,92 177,91 172,89 173,86 177,83 181,78 185,74 189,69 192,64 197,60Z M-1,133 9,132 19,131.6 29,131 39,130.4 49,131 59,132.4 69,133 79,132 87,130 92,128.4 99,130 105,131.6 111,133 117,135 125,137 125,139 131,139 137,141 145,143 151,145.6 157,150 162,155 167,157 170,162 171,168 170,173 172,178 173,182 167,183 161,182 159,178 153,178 147,179 142,176 141,170 143,164 144,158 139,160 133,161 127,160 125,160 119,160 113,158 105,154 95,152 85,154.4 93,158 99,162 103,167 107,172 109,178 108.6,184 107,190 106,196 107.6,193.1 99,197.4 90.4,200.3 81.9,204.6 76.1,208.9 74.7,213.1 81.9,216 84.7,218.9 79,223.1 70.4,226 61.9,227.4 56.1,229.1 0,229 0,136Z M157,20 160,14 162,13 163,14 161.4,18 162,21 159,22Z M209,33 211,31.4 215,31 218.6,32.4 218.6,35.6 216,37.2 212,37 209.4,35.4Z M243,20 245,17 251,15.6 255,12.4 259,13 259,18 256,23 252,27 249,30.4 243,31 244,26Z M270,2 279,2 287,3 294,7 299,13 296,16 291,17 288,20 289,25 291,29 298,30.4 294,33 299,36 305,39 310,43 313,48 309,46 304,44 299,45 294,45 290,44 289,40 291,38 287,36 283,33 279,31 275,29 271,26 268,24 273,24 277,26 276,20 277,15 278,11 275,7 270,4Z M266,32 271,32.4 270,34.4 266.6,34Z M310,33 315,31 321,31 324,33 319,35 313,35.6 310,34Z M325,30.4 330,30 330,31.6 325.4,32Z M338,26.4 343,26 343.4,28.4 338.6,28.8Z M350,29.2 353,29.2 353,31.2 350,31.2Z M314,52 319,51 325,53 331,57 335,61 331,62 325,60 319,58 314.6,55.6Z M141,104 144,99 151,97.6 159,97 165,98 168,103 169,109 170,115 169.4,121 168,124 165,123 162,120 159,117 155,115 150,114 146,111 142,108Z M170,96 172,93.6 175,95 178,99 176,101 172,100Z M186,118 189,114 193,113 195,116 194,121 191,123 187,122Z M169,96 173,94 177,96 179,100 176,102 171,101Z M178.6,157 181.4,156 182.6,160 180.6,163 178.6,161Z M182.6,154 184.2,154 184.2,155.6 182.6,155.6Z M151,184 155,184 154.6,187 151.4,186.4Z M153.3,184.6 155.6,184.6 155.6,186.6 153.3,186.6Z M247.4,154.4 251,151.6 256,150.4 261,149.6 265,149 267,153 267.4,160 266,166 263,169 259,168 256,164 252,162 248,159.6Z M251,188 254,188 254.6,191 251,191.6Z M251.9,187.4 253.9,187.4 253.9,189.4 251.9,189.4Z M334.7,206 344.7,204.6 347.6,207.4 339,208.9Z M339,217.4 347.6,214.6 352.7,216 352.7,221.7 346.1,220.3 340.4,219.7Z"/>
<path fill="#ffffff" d="M235,115 237,110 242,106 249,105 255,107 260,111 264,115 261,119 255,121 249,123 242,124 237,121Z M284.5,117.5 289.9,115.2 296.6,113.1 303.4,111.1 308.8,109.8 315.5,109.4 320.9,111.1 322.9,115.8 322.9,122.6 321.6,128.7 317.5,129.3 312.8,127.3 308.8,123.9 303.4,121.2 298,119.9 291.2,119.2 285.8,118.5Z M212.6,51 213.4,57 216,60 218,56 218.6,51Z M21,153 25,151 33,150 41,150.4 46,153 52,152 57,154 58,157 54,159 51,163 45,163 41,161 38,164 34,167 30,166 28.6,160 25,156Z M0,154 5,153 6,156 0,157Z"/>
<path fill="#ffd500" d="M206,113 209,108 213,104 218,100 223,97 229,95 235,92 241,89 247,86 253,84 259,81 265,78 269,76 275,75 283,75.6 291,77 299,78 307,76 317,73 327,72 335,73 339,76 335,79 327,81 319,82 311,84 303,86 295,87 287,86 281,87 275,94 269,93 261,94 253,96 245,98 239,100 233,102 229,106 226,111 222,116 217,120 212,121 208,119Z M207,94 209,90 214,88 219,87 222,88 219,91 215,94 210,96Z M281,88 285,90 291,92 287,94.4 281,95.4 275,95 276,91Z M266,124 271,122.4 278,123 285,125 290,128 291,132 287,133.6 281,133 275,130 270,127.6 266.6,126Z M314,147 319,145 324,147 327,152 330,158 335,163 341,168 347,173 350,177 353.4,180 353.4,185 347,181.6 342,180 337,176 331,172 324,168 319,163 315,156 313.4,151Z M323.8,95 327.6,94.1 337.1,94.6 344.7,95 346.1,100.8 352.3,102.7 352.3,127.9 348.5,125.5 344.7,120.8 342.8,116 340,112.2 337.1,109.3 331.4,106.5 327.6,103.6 324.7,99.8Z M256,156 260,154 263,156 263,161 260,164 257,161Z M125,146 131,147 136,150 134,153 129,152.4 125,152 122,149.6Z M53,143 59,141.6 67,142.4 72,144 67,145.6 59,145 54,144.4Z M81,143 87,141.6 95,142 99,143.6 93,145 85,145Z M105,146 113,145 121,146 127,147.6 127,151 117,151 110,149.6 106,148Z M22,190 26,185 32,183 39,184 47,187 51.4,189 49,192 43,194 35,193 29,194 24,193Z M22.4,188.2 27.2,184.3 33.5,182.7 41.4,185.8 49.4,187.4 51.3,189.8 48.1,193 44.9,197 43.3,201.7 39.9,205.7 34.3,207 28.7,206.5 24.8,208.5 23.2,206.5 26.4,203.3 29.5,200.1 28.7,196.2 24.8,194.6 22.4,192.2Z M-0.6,195.4 4.9,194.3 9.7,196.2 11.6,200.1 8.4,203.8 12.9,207.3 17.6,210.9 16.4,213.6 20.8,216.8 28.7,220.8 38.3,223.9 45.4,227.9 -0.6,228.7Z M205,116 207,110 211,105 217,100 223,96 251,95 251,98 243,101 237,103 233,107 230,112 227,117 223,121 218,123 213,122 208,120Z"/>
<path fill="#ffaa00" d="M233,94 239,91 245,88 251,86 257,83 263,80 269,77.6 273,77 279,78 282,81 277,85 271,88 263,90 257,91 249,92 241,94 236,95.4Z M211,115 214,110 218,106 222,103 226,105 224,110 220,114 216,117 212.6,118Z M229,95 237,99 245,97 247.4,95Z M340.9,109.3 344.7,107.4 348.5,107 352.3,107.9 352.3,126 348.5,123.6 345.7,118.9 342.8,114.1 340.9,111.2Z"/>
<path fill="#ff8000" d="M247,89 253,86.6 259,84 265,81.4 270,81 273,82 269,85 263,87 257,89 251,90.4Z"/>
<use href="#base"/>
</g>
<rect x="0" y="0" width="352" height="228.2" fill="none" stroke="#1a1a1a" stroke-width="1.15"/>
</g>
<use href="#cbar"/>
<use href="#annot"/>
<text class="t" x="10.46" y="23.9" textLength="18.98" lengthAdjust="spacingAndGlyphs">IFS</text>
<text class="t" x="35.93" y="23.9" text-anchor="middle">-</text>
<text class="t" x="42.42" y="23.9" textLength="80.92" lengthAdjust="spacingAndGlyphs">Probabilities</text>
<text class="t" x="127.34" y="23.9" textLength="29.97" lengthAdjust="spacingAndGlyphs">total</text>
<text class="t" x="161.31" y="23.9" textLength="109.89" lengthAdjust="spacingAndGlyphs">precipitation/24h</text>
<text class="t" x="280.69" y="23.9" text-anchor="middle">&gt;</text>
<text class="t" x="290.18" y="23.9" textLength="15.98" lengthAdjust="spacingAndGlyphs">10</text>
<text class="t" x="310.16" y="23.9" textLength="29.97" lengthAdjust="spacingAndGlyphs">mm,</text>
<text class="t" x="344.12" y="23.9" textLength="24.98" lengthAdjust="spacingAndGlyphs">Init:</text>
<text class="t" x="373.09" y="23.9" textLength="63.94" lengthAdjust="spacingAndGlyphs">20251227</text>
<text class="t" x="441.03" y="23.9" textLength="22.98" lengthAdjust="spacingAndGlyphs">00z</text>
<text class="t" x="470.50" y="23.9" text-anchor="middle">-</text>
<text class="t" x="476.99" y="23.9" textLength="36.96" lengthAdjust="spacingAndGlyphs">Valid:</text>
<text class="t" x="517.95" y="23.9" textLength="83.92" lengthAdjust="spacingAndGlyphs">20260104:00</text>
<text class="t" x="605.86" y="23.9" textLength="17.98" lengthAdjust="spacingAndGlyphs">TU</text>
</g>
<g transform="translate(0,268.5)">
<g transform="translate(141,49.2)"><g clip-path="url(#cp)">
<ellipse cx="330.2" cy="96.3" rx="7" ry="4.2" fill="#ffff00"/>
<use href="#base"/>
</g>
<rect x="0" y="0" width="352" height="228.2" fill="none" stroke="#1a1a1a" stroke-width="1.15"/>
</g>
<use href="#cbar"/>
<use href="#annot"/>
<text class="t" x="10.46" y="23.9" textLength="18.98" lengthAdjust="spacingAndGlyphs">IFS</text>
<text class="t" x="35.93" y="23.9" text-anchor="middle">-</text>
<text class="t" x="42.42" y="23.9" textLength="80.92" lengthAdjust="spacingAndGlyphs">Probabilities</text>
<text class="t" x="127.34" y="23.9" textLength="29.97" lengthAdjust="spacingAndGlyphs">total</text>
<text class="t" x="161.31" y="23.9" textLength="109.89" lengthAdjust="spacingAndGlyphs">precipitation/24h</text>
<text class="t" x="280.69" y="23.9" text-anchor="middle">&gt;</text>
<text class="t" x="290.18" y="23.9" textLength="15.98" lengthAdjust="spacingAndGlyphs">50</text>
<text class="t" x="310.16" y="23.9" textLength="29.97" lengthAdjust="spacingAndGlyphs">mm,</text>
<text class="t" x="344.12" y="23.9" textLength="24.98" lengthAdjust="spacingAndGlyphs">Init:</text>
<text class="t" x="373.09" y="23.9" textLength="63.94" lengthAdjust="spacingAndGlyphs">20251227</text>
<text class="t" x="441.03" y="23.9" textLength="22.98" lengthAdjust="spacingAndGlyphs">00z</text>
<text class="t" x="470.50" y="23.9" text-anchor="middle">-</text>
<text class="t" x="476.99" y="23.9" textLength="36.96" lengthAdjust="spacingAndGlyphs">Valid:</text>
<text class="t" x="517.95" y="23.9" textLength="83.92" lengthAdjust="spacingAndGlyphs">20260104:00</text>
<text class="t" x="605.86" y="23.9" textLength="17.98" lengthAdjust="spacingAndGlyphs">TU</text>
</g>
<g transform="translate(0,537)">
<g transform="translate(141,49.2)"><g clip-path="url(#cp)">

<use href="#base"/>
</g>
<rect x="0" y="0" width="352" height="228.2" fill="none" stroke="#1a1a1a" stroke-width="1.15"/>
</g>
<use href="#cbar"/>
<use href="#annot"/>
<text class="t" x="6.46" y="23.9" textLength="18.98" lengthAdjust="spacingAndGlyphs">IFS</text>
<text class="t" x="31.94" y="23.9" text-anchor="middle">-</text>
<text class="t" x="38.43" y="23.9" textLength="80.92" lengthAdjust="spacingAndGlyphs">Probabilities</text>
<text class="t" x="123.34" y="23.9" textLength="29.97" lengthAdjust="spacingAndGlyphs">total</text>
<text class="t" x="157.31" y="23.9" textLength="109.89" lengthAdjust="spacingAndGlyphs">precipitation/24h</text>
<text class="t" x="276.69" y="23.9" text-anchor="middle">&gt;</text>
<text class="t" x="286.18" y="23.9" textLength="23.98" lengthAdjust="spacingAndGlyphs">100</text>
<text class="t" x="314.15" y="23.9" textLength="29.97" lengthAdjust="spacingAndGlyphs">mm,</text>
<text class="t" x="348.12" y="23.9" textLength="24.98" lengthAdjust="spacingAndGlyphs">Init:</text>
<text class="t" x="377.09" y="23.9" textLength="63.94" lengthAdjust="spacingAndGlyphs">20251227</text>
<text class="t" x="445.02" y="23.9" textLength="22.98" lengthAdjust="spacingAndGlyphs">00z</text>
<text class="t" x="474.49" y="23.9" text-anchor="middle">-</text>
<text class="t" x="480.99" y="23.9" textLength="36.96" lengthAdjust="spacingAndGlyphs">Valid:</text>
<text class="t" x="521.94" y="23.9" textLength="83.92" lengthAdjust="spacingAndGlyphs">20260104:00</text>
<text class="t" x="609.86" y="23.9" textLength="17.98" lengthAdjust="spacingAndGlyphs">TU</text>
</g>
</svg></body></html>
